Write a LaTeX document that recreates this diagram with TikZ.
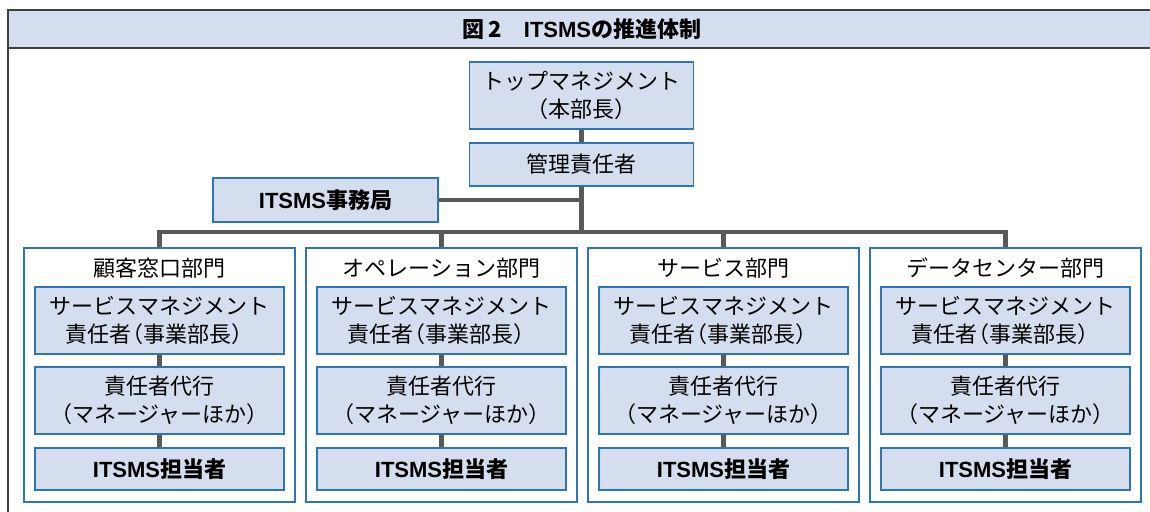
\documentclass[tikz,border=0pt]{standalone}
\usepackage{fontspec}
\setmainfont{Noto Sans CJK JP}
\newfontfamily\lat{Liberation Sans}
\definecolor{boxfill}{HTML}{D5DEEF}
\definecolor{boxline}{HTML}{2E75B6}
\definecolor{connc}{HTML}{595959}
\definecolor{framec}{HTML}{404040}
\begin{document}
\begin{tikzpicture}[x=1pt,y=-1pt,
  txt/.style={font=\fontsize{22}{28}\selectfont, align=center},
  box/.style={txt, draw=boxline, line width=1.3pt, fill=boxfill, inner sep=0pt},
  deptbox/.style={draw=boxline, line width=1.3pt, fill=white, inner sep=0pt, minimum width=271pt, minimum height=254pt},
  boxA/.style={box, minimum width=249pt, minimum height=67pt},
  boxC/.style={box, minimum width=249pt, minimum height=42pt},
  conn/.style={draw=connc, line width=4.5pt, line join=miter}]
\useasboundingbox (0,0) rectangle (1150,511);
% frame and title band
\fill[boxfill] (7.5,10) rectangle (1155,48);
\draw[framec, line width=2pt] (1155,10) -- (7.5,10) -- (7.5,515);
\draw[framec, line width=2pt] (7.5,48) -- (1155,48);
\node[font=\fontsize{22}{26}\selectfont\bfseries] (title) at (582,29) {図\,2\hspace{1em}{\lat ITSMS}の推進体制};
% top part
\node[box, minimum width=224pt, minimum height=67pt] (top) at (581.5,95.5) {トップマネジメント\\（本部長）};
\node[box, minimum width=224pt, minimum height=43pt] (mgr) at (581.5,164.5) {管理責任者};
\node[box, minimum width=225pt, minimum height=44pt, font=\fontsize{22}{28}\selectfont\bfseries] (office) at (325.5,200) {{\lat ITSMS}事務局};
% departments
\foreach \i/\cx/\name in {1/159.5/顧客窓口部門, 2/441.5/オペレーション部門, 3/723.5/サービス部門, 4/1005.5/データセンター部門} {
  \node[deptbox] (d\i) at (\cx,375) {};
  \node[txt] (t\i) at (\cx,268) {\name};
  \node[boxA] (a\i) at (\cx,320.5) {サービスマネジメント\\責任者\hspace{-0.45em}（事業部長）};
  \node[boxA] (b\i) at (\cx,400.5) {責任者代行\\（マネージャーほか）};
  \node[boxC, font=\fontsize{22}{28}\selectfont\bfseries] (c\i) at (\cx,469) {{\lat ITSMS}担当者};
  \draw[conn] (a\i.south) -- (b\i.north);
  \draw[conn] (b\i.south) -- (c\i.north);
}
% connectors
\coordinate (bus) at (581.5,232);
\draw[conn] (top.south) -- (mgr.north);
\draw[conn] (mgr.south) -- (bus);
\draw[conn] (office.east) -- (office.east -| mgr.south);
\draw[conn] (d1.north) -- (d1.north |- bus) -- (d4.north |- bus) -- (d4.north);
\draw[conn] (d2.north) -- (d2.north |- bus);
\draw[conn] (d3.north) -- (d3.north |- bus);
\end{tikzpicture}
\end{document}
